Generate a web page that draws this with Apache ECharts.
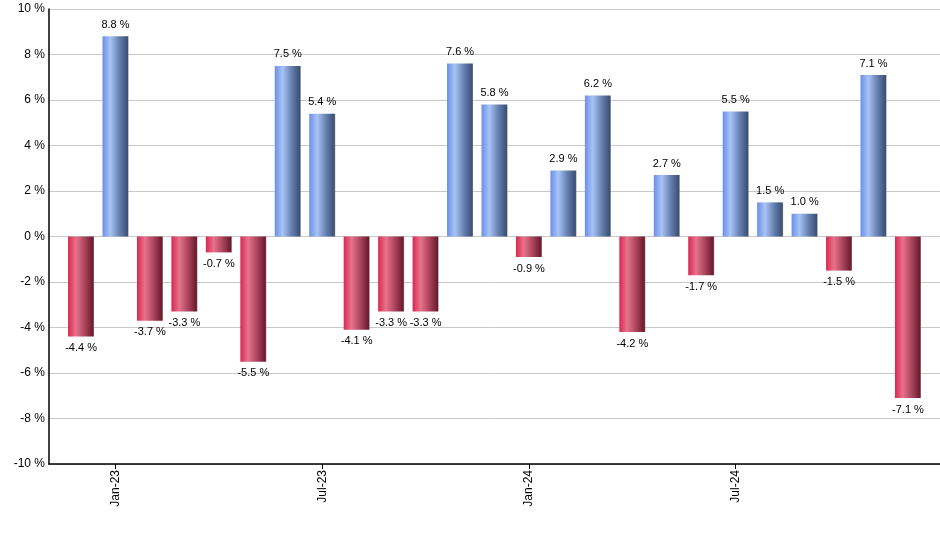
<!DOCTYPE html>
<html><head><meta charset="utf-8">
<script src="https://cdn.jsdelivr.net/npm/echarts@6/dist/echarts.min.js"></script>
<style>html,body{margin:0;padding:0;background:#fff}#c{width:940px;height:550px}</style>
</head><body><div id="c"></div>
<script>
const months = ['Dec-22','Jan-23','Feb-23','Mar-23','Apr-23','May-23','Jun-23','Jul-23','Aug-23','Sep-23','Oct-23','Nov-23','Dec-23','Jan-24','Feb-24','Mar-24','Apr-24','May-24','Jun-24','Jul-24','Aug-24','Sep-24','Oct-24','Nov-24','Dec-24'];
const returns = [-4.4, 8.8, -3.7, -3.3, -0.7, -5.5, 7.5, 5.4, -4.1, -3.3, -3.3, 7.6, 5.8, -0.9, 2.9, 6.2, -4.2, 2.7, -1.7, 5.5, 1.5, 1.0, -1.5, 7.1, -7.1];
const tickIdx = [1, 7, 13, 19];

const blueGrad = new echarts.graphic.LinearGradient(0,0,1,0,[
  {offset:0,color:'#6a8fe8'},{offset:0.3,color:'#a8c3f5'},{offset:0.65,color:'#6580b0'},{offset:0.96,color:'#3a5075'},{offset:1,color:'#8a8a8a'}]);
const redGrad = new echarts.graphic.LinearGradient(0,0,1,0,[
  {offset:0,color:'#d82850'},{offset:0.3,color:'#e8728c'},{offset:0.65,color:'#a8445c'},{offset:0.96,color:'#6c1a2e'},{offset:1,color:'#8a8a8a'}]);

const chart = echarts.init(document.getElementById('c'), null, {renderer:'canvas'});
chart.setOption({
  animation:false,
  grid:{left:49, right:0, top:9, bottom:86, containLabel:false},
  xAxis:{
    type:'value', min:-0.93, max:months.length-1+0.93,
    axisLine:{show:true, onZero:false, lineStyle:{color:'#000', width:1.5}},
    splitLine:{show:false},
    axisTick:{show:true, customValues:tickIdx, length:5, lineStyle:{color:'#000'}},
    axisLabel:{show:true, customValues:tickIdx, rotate:90, formatter:v=>months[Math.round(v)], color:'#000', fontFamily:'Liberation Sans, Arial', fontSize:12, margin:6}
  },
  yAxis:{
    type:'value', min:-10, max:10, interval:2,
    axisLine:{show:true, onZero:false, lineStyle:{color:'#000', width:1.5}},
    axisTick:{show:false},
    splitLine:{show:true, lineStyle:{color:'#c8c8c8', width:1}},
    axisLabel:{formatter:v=>v+' %', color:'#000', fontFamily:'Liberation Sans, Arial', fontSize:12, margin:4}
  },
  series:[{
    type:'bar', barWidth:26,
    data: returns.map((v,i)=>({value:[i,v], itemStyle:{color: v>=0?blueGrad:redGrad},
      label:{show:true, position: v>=0?'top':'bottom', distance:6, formatter: v.toFixed(1)+' %', color:'#000', fontFamily:'Liberation Sans, Arial', fontSize:11}}))
  }]
});
</script></body></html>
